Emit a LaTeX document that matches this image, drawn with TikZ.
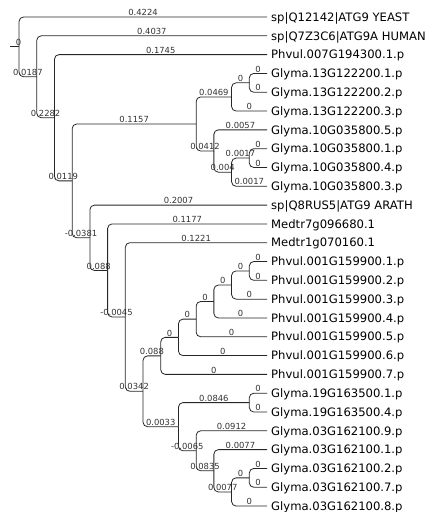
\documentclass[tikz,border=0pt]{standalone}
\usepackage{fontspec}
\setmainfont{DejaVu Sans}
\usetikzlibrary{calc}
\tikzset{
  br/.style={draw=black!85, line width=0.8pt, rounded corners=4.5pt},
  bl/.style={font=\fontsize{8.4}{9}\selectfont, text=black!80, anchor=south, inner sep=0.8pt},
  leaf/.style={font=\fontsize{11.6}{13}\selectfont, anchor=base west, inner sep=0pt, xshift=4pt, yshift=-4.2pt},
}
\newcommand\inode[4]{%
  \coordinate (#1m) at ($(#3)!.5!(#4)$);
  \coordinate (#1x) at ({267-#2*17.71},0);
  \coordinate (#1) at (#1x |- #1m);}
\newcommand\tedge[3]{\draw[br] (#1) |- node[bl,pos=0.75]{#3} (#2);}
\begin{document}
\begin{tikzpicture}[x=1pt,y=-1pt]
\useasboundingbox (0,0) rectangle (437,512);
% leaves
\foreach \n/\t in {1/{sp|Q12142|ATG9 YEAST},2/{sp|Q7Z3C6|ATG9A HUMAN},3/{Phvul.007G194300.1.p},
  4/{Glyma.13G122200.1.p},5/{Glyma.13G122200.2.p},6/{Glyma.13G122200.3.p},
  7/{Glyma.10G035800.5.p},8/{Glyma.10G035800.1.p},9/{Glyma.10G035800.4.p},10/{Glyma.10G035800.3.p},
  11/{sp|Q8RUS5|ATG9 ARATH},12/{Medtr7g096680.1},13/{Medtr1g070160.1},
  14/{Phvul.001G159900.1.p},15/{Phvul.001G159900.2.p},16/{Phvul.001G159900.3.p},17/{Phvul.001G159900.4.p},
  18/{Phvul.001G159900.5.p},19/{Phvul.001G159900.6.p},20/{Phvul.001G159900.7.p},
  21/{Glyma.19G163500.1.p},22/{Glyma.19G163500.4.p},23/{Glyma.03G162100.9.p},24/{Glyma.03G162100.1.p},
  25/{Glyma.03G162100.2.p},26/{Glyma.03G162100.7.p},27/{Glyma.03G162100.8.p}}{
  \coordinate (l\n) at (267,{17+18.81*(\n-1)});
  \node[leaf] (t\n) at (l\n) {\t};
}
% internal nodes: name, height, first child, last child
\inode{U}{1}{l14}{l15}
\inode{T}{2}{U}{l16}
\inode{S}{3}{T}{l17}
\inode{Q}{4}{S}{l18}
\inode{P}{5}{Q}{l19}
\inode{N}{6}{P}{l20}
\inode{V}{1}{l21}{l22}
\inode{Z}{1}{l25}{l26}
\inode{Y}{2}{Z}{l27}
\inode{X}{3}{l24}{Y}
\inode{W}{4}{l23}{X}
\inode{O}{5}{V}{W}
\inode{M}{7}{N}{O}
\inode{L}{8}{l13}{M}
\inode{K}{9}{l12}{L}
\inode{E}{10}{l11}{K}
\inode{H}{1}{l4}{l5}
\inode{F}{2}{H}{l6}
\inode{J}{1}{l8}{l9}
\inode{I}{2}{J}{l10}
\inode{G}{3}{l7}{I}
\inode{D}{4}{F}{G}
\inode{C}{11}{D}{E}
\inode{B}{12}{l3}{C}
\inode{A}{13}{l2}{B}
\inode{R}{14}{l1}{A}
% root stub
\coordinate (r0) at ([xshift=-9pt]R);
\draw[br] (r0) -- (R);
\node[bl] (rl) at ([xshift=-0.5pt]R) {0};
% branches
\tedge{R}{l1}{0.4224}
\tedge{R}{A}{0.0187}
\tedge{A}{l2}{0.4037}
\tedge{A}{B}{0.2282}
\tedge{B}{l3}{0.1745}
\tedge{B}{C}{0.0119}
\tedge{C}{D}{0.1157}
\tedge{C}{E}{-0.0381}
\tedge{D}{F}{0.0469}
\tedge{D}{G}{0.0412}
\tedge{F}{H}{0}
\tedge{F}{l6}{0}
\tedge{H}{l4}{0}
\tedge{H}{l5}{0}
\tedge{G}{l7}{0.0057}
\tedge{G}{I}{0.004}
\tedge{I}{J}{0.0017}
\tedge{I}{l10}{0.0017}
\tedge{J}{l8}{0}
\tedge{J}{l9}{0}
\tedge{E}{l11}{0.2007}
\tedge{E}{K}{0.088}
\tedge{K}{l12}{0.1177}
\tedge{K}{L}{-0.0045}
\tedge{L}{l13}{0.1221}
\tedge{L}{M}{0.0342}
\tedge{M}{N}{0.088}
\tedge{M}{O}{0.0033}
\tedge{N}{P}{0}
\tedge{N}{l20}{0}
\tedge{P}{Q}{0}
\tedge{P}{l19}{0}
\tedge{Q}{S}{0}
\tedge{Q}{l18}{0}
\tedge{S}{T}{0}
\tedge{S}{l17}{0}
\tedge{T}{U}{0}
\tedge{T}{l16}{0}
\tedge{U}{l14}{0}
\tedge{U}{l15}{0}
\tedge{O}{V}{0.0846}
\tedge{O}{W}{-0.0065}
\tedge{V}{l21}{0}
\tedge{V}{l22}{0}
\tedge{W}{l23}{0.0912}
\tedge{W}{X}{0.0835}
\tedge{X}{l24}{0.0077}
\tedge{X}{Y}{0.0077}
\tedge{Y}{Z}{0}
\tedge{Y}{l27}{0}
\tedge{Z}{l25}{0}
\tedge{Z}{l26}{0}
\end{tikzpicture}
\end{document}
